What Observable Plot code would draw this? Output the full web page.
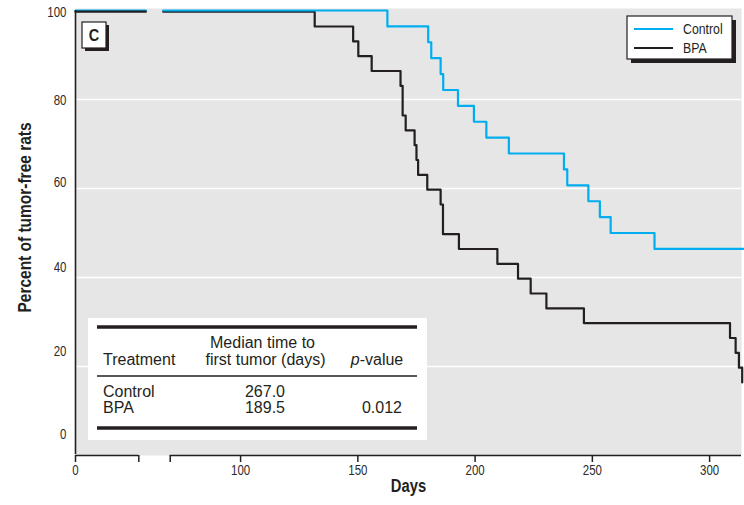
<!DOCTYPE html>
<html><head><meta charset="utf-8">
<script src="https://cdn.jsdelivr.net/npm/d3@7"></script>
<script src="https://cdn.jsdelivr.net/npm/@observablehq/plot@0.6"></script>
<style>
html,body{margin:0;padding:0;background:#fff;}
#chart{position:relative;width:744px;height:505px;}
</style></head><body><div id="chart"></div>
<script>
// ---- data ----
const groups = ["Control", "BPA"];
const groupColors = ["#00aeef", "#231f20"];
const controlDays = [162.6, 180, 181.3, 185.3, 186.4, 192.7, 199.5, 204.8, 214.4, 237.9, 239.3, 248.3, 253.2, 257.8, 276.5];
const controlPct  = [96.43, 92.86, 89.29, 85.71, 82.14, 78.57, 75, 71.43, 67.86, 64.29, 60.71, 57.14, 53.57, 50, 46.43];
const controlEnd = 315;
const bpaDays = [131.6, 148, 150.2, 155.9, 168.2, 169.1, 170.4, 174.2, 175, 175.7, 179.6, 185.3, 186.3, 193.1, 209.5, 218.3, 223.7, 230.4, 246.4, 308.7, 311.1, 312.5, 313.9];
const bpaPct  = [96.67, 93.33, 90, 86.67, 83.33, 76.67, 73.33, 70, 66.67, 63.33, 60, 56.67, 50, 46.67, 43.33, 40, 36.67, 33.33, 30, 26.67, 23.33, 20, 16.67];
const xTicks = [0, 100, 150, 200, 250, 300];
const xBreakTicks = [27, 70];     // axis break edges (days)
const lineBreak = [30, 67];       // curves pause / resume around the break (days)
const xEnd = 313.6;
const yTicks = [0, 20, 40, 60, 80, 100];
const yGrid = [20, 40, 60, 80];
const panelLabel = "C";
const xTitle = "Days";
const yTitle = "Percent of tumor-free rats";
const tableTitleLine = "Median time to";
const tableColumns = ["Treatment", "first tumor (days)", "-value"];
const tableTreatments = ["Control", "BPA"];
const tableMedians = ["267.0", "189.5"];
const tablePValues = ["", "0.012"];

// broken axis: the early days are drawn compressed before the break
const shift = 29.6;
const toAxis = d => d < 50 ? d + shift : d;

function steps(group, days, pct, end) {
  const pts = [
    {group, seg: "a", day: 0, pct: 100},
    {group, seg: "a", day: lineBreak[0], pct: 100},
    {group, seg: "b", day: lineBreak[1], pct: 100}
  ];
  days.forEach((d, i) => pts.push({group, seg: "b", day: d, pct: pct[i]}));
  if (end != null) pts.push({group, seg: "b", day: end, pct: pct[pct.length - 1]});
  return pts;
}
const control = steps(groups[0], controlDays, controlPct, controlEnd);
const bpa = steps(groups[1], bpaDays, bpaPct, null);

const font = "'Liberation Sans', Arial, sans-serif";
const ink = "#231f20";
const tickInk = "#2b2b2b";
const labelShift = {0: -21, 20: -15, 40: -10, 60: -6, 80: 1, 100: 2};

const lineOpts = (color, extra = {}) => ({x: d => toAxis(d.day), y: "pct", z: "seg", curve: "step-after", stroke: color, strokeWidth: 2.2, ...extra});

const svg = Plot.plot({
  width: 744, height: 505,
  marginLeft: 75, marginRight: 3, marginTop: 10, marginBottom: 50,
  x: {domain: [toAxis(0), xEnd], label: null},
  y: {domain: [0, 100], label: null, axis: null},
  style: {fontFamily: font, fontSize: "14px", color: ink, background: "white"},
  marks: [
    Plot.frame({fill: "#e6e6e6", stroke: "none", insetTop: -2}),
    Plot.ruleY(yGrid, {stroke: "white", strokeWidth: 1.3}),
    Plot.line(control.filter(d => d.seg === "a"), lineOpts(groupColors[0])),
    Plot.line(bpa, lineOpts(groupColors[1], {dy: 1.2})),
    Plot.line(control.filter(d => d.seg === "b"), lineOpts(groupColors[0])),
    Plot.ruleY([{x1: toAxis(0), x2: toAxis(xBreakTicks[0])}, {x1: toAxis(xBreakTicks[1]), x2: xEnd}],
      {y: 0, x1: "x1", x2: "x2", stroke: ink, strokeWidth: 1.6}),
    Plot.ruleX([toAxis(0)], {y1: 0, y2: 100, stroke: ink, strokeWidth: 1.6, insetTop: -1}),
    Plot.axisX([...xTicks, ...xBreakTicks].map(toAxis), {tickSize: 7, tickFormat: () => "", stroke: ink, strokeWidth: 1.5, label: null}),
    Plot.text(xTicks, {x: toAxis, text: d => String(d), frameAnchor: "bottom", dy: 19.5, fontSize: 14, fill: tickInk}),
    ...yTicks.map(t => Plot.text([t], {y: d => d, text: d => String(d), frameAnchor: "left", textAnchor: "end", dx: -9, dy: labelShift[t], fontSize: 14, fill: tickInk})),
    Plot.text([xTitle], {frameAnchor: "bottom", dy: 36, fontSize: 18, fontWeight: "bold", fill: ink}),
    Plot.text([yTitle], {frameAnchor: "left", textAnchor: "middle", dx: -50.5, dy: -15.5, rotate: -90, fontSize: 18, fontWeight: "bold", fill: ink})
  ]
});
document.getElementById("chart").appendChild(svg);
const root = d3.select(svg);

// narrow the glyphs to imitate the condensed typeface of the reference
function condense(el, factor) {
  el.removeAttribute("textLength");
  const w = el.getComputedTextLength();
  if (w > 0) {
    el.setAttribute("textLength", (w * factor).toFixed(2));
    el.setAttribute("lengthAdjust", "spacingAndGlyphs");
  }
}
root.selectAll("text").each(function() {
  condense(this, this.textContent === yTitle ? 0.86 : 0.82);
});

// ---- annotations (panel label, legend, summary table) ----
const g = root.append("g");

// panel label box with drop shadow
g.append("rect").attr("x", 85).attr("y", 25).attr("width", 24).attr("height", 26).attr("fill", ink);
g.append("rect").attr("x", 82).attr("y", 22).attr("width", 24).attr("height", 26).attr("fill", "white").attr("stroke", ink).attr("stroke-width", 1.2);
const cl = g.append("text").attr("x", 94).attr("y", 41).attr("text-anchor", "middle")
  .attr("font-family", font).attr("font-weight", "bold").attr("font-size", 17).attr("fill", ink).text(panelLabel);
condense(cl.node(), 0.85);

// legend
g.append("rect").attr("x", 631).attr("y", 20).attr("width", 105).attr("height", 43).attr("fill", ink);
g.append("rect").attr("x", 627).attr("y", 16).attr("width", 105).attr("height", 43).attr("fill", "white").attr("stroke", ink).attr("stroke-width", 1.2);
groups.forEach((name, i) => {
  const yy = 29 + i * 19;
  g.append("line").attr("x1", 634).attr("x2", 673).attr("y1", yy).attr("y2", yy).attr("stroke", groupColors[i]).attr("stroke-width", 2.2);
  const t = g.append("text").attr("x", 683).attr("y", yy + 5).attr("text-anchor", "start")
    .attr("font-family", font).attr("font-size", 15).attr("fill", ink).text(name);
  condense(t.node(), 0.82);
});

// table
g.append("rect").attr("x", 88).attr("y", 318).attr("width", 339).attr("height", 122).attr("fill", "white");
[[327, 3.5], [376, 1.5], [428, 3.5]].forEach(([yy, w]) =>
  g.append("line").attr("x1", 97).attr("x2", 417).attr("y1", yy).attr("y2", yy).attr("stroke", ink).attr("stroke-width", w));
const txt = (x, y, s, anchor = "start") => g.append("text").attr("x", x).attr("y", y).attr("text-anchor", anchor)
  .attr("font-family", font).attr("font-size", 16).attr("fill", ink).text(s);
txt(262.5, 348, tableTitleLine, "middle");
txt(103, 365, tableColumns[0]);
txt(265.5, 365, tableColumns[1], "middle");
const pv = g.append("text").attr("x", 377).attr("y", 365).attr("text-anchor", "middle")
  .attr("font-family", font).attr("font-size", 16).attr("fill", ink);
pv.append("tspan").attr("font-style", "italic").text("p");
pv.append("tspan").text(tableColumns[2]);
tableTreatments.forEach((t, i) => {
  const yy = 397 + i * 16.3;
  txt(103, yy, t);
  txt(265, yy, tableMedians[i], "middle");
  if (tablePValues[i]) txt(402, yy, tablePValues[i], "end");
});
</script></body></html>
